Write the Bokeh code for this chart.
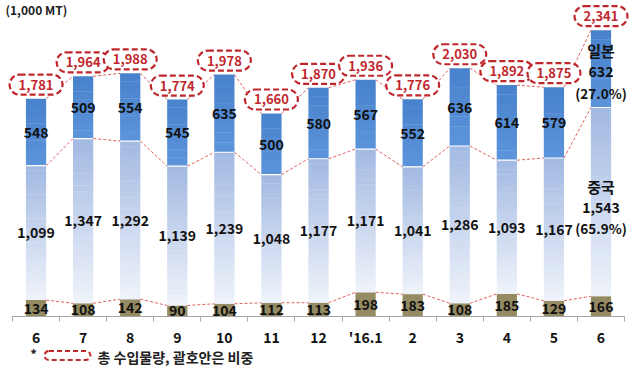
from bokeh.plotting import figure
from bokeh.models import Range1d, FixedTicker, LinearAxis
from bokeh.core.properties import value
from bokeh.embed import file_html
from bokeh.resources import INLINE

months = ["6", "7", "8", "9", "10", "11", "12", "'16.1", "2", "3", "4", "5", "6"]
other = [134, 108, 142, 90, 104, 112, 113, 198, 183, 108, 185, 129, 166]
china = [1099, 1347, 1292, 1139, 1239, 1048, 1177, 1171, 1041, 1286, 1093, 1167, 1543]
japan = [548, 509, 554, 545, 635, 500, 580, 567, 552, 636, 614, 579, 632]
totals = [1781, 1964, 1988, 1774, 1978, 1660, 1870, 1936, 1776, 2030, 1892, 1875, 2341]

FONT = value("Noto Sans CJK KR")
W = 0.43
N_SLICES = 28
PX_PER_CAT = 47.08
UNITS_PER_PX = 1 / 0.1223
FIG_W, FIG_H = 634, 367
LEFT_PX = 12   # canvas column of the first category boundary
BASE_PX = 316  # canvas row of the zero line


def hex2rgb(h):
    h = h.lstrip("#")
    return [int(h[i:i + 2], 16) for i in (0, 2, 4)]


def mix(c1, c2, t):
    a, b = hex2rgb(c1), hex2rgb(c2)
    return "#%02x%02x%02x" % tuple(round(a[i] + (b[i] - a[i]) * t) for i in range(3))


x0 = -0.5 - LEFT_PX / PX_PER_CAT
x1 = x0 + FIG_W / PX_PER_CAT
y1 = BASE_PX * UNITS_PER_PX
y0 = -(FIG_H - BASE_PX) * UNITS_PER_PX

p = figure(width=FIG_W, height=FIG_H, output_backend="svg", toolbar_location=None,
           x_range=Range1d(x0, x1), y_range=Range1d(y0, y1),
           x_axis_location=None, y_axis_location=None,
           min_border_left=0, min_border_right=0, min_border_top=0, min_border_bottom=0)
p.grid.visible = False
p.outline_line_color = None
p.background_fill_color = "white"

n = len(months)
xs = list(range(n))

L, R, B, T, C = [], [], [], [], []
for i in xs:
    L.append(i - W / 2); R.append(i + W / 2); B.append(0); T.append(other[i]); C.append("#958b62")
    b0 = other[i]
    t0 = other[i] + china[i]
    for k in range(N_SLICES):
        lo = b0 + (t0 - b0) * k / N_SLICES
        hi = b0 + (t0 - b0) * (k + 1) / N_SLICES
        if k < N_SLICES - 1:
            hi += 3
        L.append(i - W / 2); R.append(i + W / 2); B.append(lo); T.append(hi)
        C.append(mix("#eef2fa", "#a3bae2", k / (N_SLICES - 1)))
    b1 = t0
    t1 = totals[i]
    M = 8
    for k in range(M):
        lo = b1 + (t1 - b1) * k / M
        hi = b1 + (t1 - b1) * (k + 1) / M
        if k < M - 1:
            hi += 3
        L.append(i - W / 2); R.append(i + W / 2); B.append(lo); T.append(hi)
        C.append(mix("#5a93d9", "#4a83cd", k / (M - 1)))

p.quad(left=L, right=R, bottom=B, top=T, fill_color=C, line_color=None)

mid_tops = [other[i] + china[i] for i in xs]
p.segment(x0=[i - W / 2 for i in xs], x1=[i + W / 2 for i in xs], y0=mid_tops, y1=mid_tops,
          line_color="white", line_width=1.2)

for level in (other, mid_tops, totals):
    p.segment(x0=[i + W / 2 for i in xs[:-1]], x1=[i + 1 - W / 2 for i in xs[:-1]],
              y0=level[:-1], y1=level[1:], line_color="#e06060", line_width=1,
              line_dash="3 2")

lab_font = "14px"
txt_kw = dict(text_align="center", text_baseline="middle", text_font=FONT,
              text_font_style="bold", text_color="#111111")
reg = xs[:-1]
p.text(x=reg, y=[totals[i] - japan[i] / 2 for i in reg], text=[f"{japan[i]:,}" for i in reg],
       text_font_size=lab_font, **txt_kw)
p.text(x=reg, y=[other[i] + china[i] / 2 for i in reg], text=[f"{china[i]:,}" for i in reg],
       text_font_size=lab_font, **txt_kw)
p.text(x=xs, y=[other[i] / 2 for i in xs], text=[f"{v:,}" for v in other],
       text_font_size=lab_font, **txt_kw)

# last bar: country name, value and share
last = n - 1
yj = totals[last] - japan[last] / 2
yc = other[last] + china[last] / 2
p.text(x=[last, last], y=[yj, yc], text=["일본", "중국"], y_offset=[-18, -15],
       text_font_size="15px", **txt_kw)
p.text(x=[last, last], y=[yj, yc], text=[f"{japan[last]:,}", f"{china[last]:,}"],
       y_offset=[3, 6], text_font_size=lab_font, **txt_kw)
p.text(x=[last, last], y=[yj, yc],
       text=[f"({japan[last] / totals[last] * 100:.1f}%)", f"({china[last] / totals[last] * 100:.1f}%)"],
       y_offset=[24, 26], text_font_size="13.5px", **txt_kw)

# totals in dashed rounded boxes
p.text(x=xs, y=totals, text=[f"{v:,}" for v in totals], y_offset=-14,
       text_align="center", text_baseline="middle", text_font=FONT, text_font_style="bold",
       text_font_size="13px", text_color="#c0272d",
       background_fill_color="white",
       border_line_color="#c0272d", border_line_width=2.2, border_line_dash="6 3",
       padding=dict(left=9, right=9, top=5, bottom=5), border_radius=11)

# x axis drawn at the zero line
ax = LinearAxis(fixed_location=0)
ax.ticker = FixedTicker(ticks=xs, minor_ticks=[i - 0.5 for i in range(n + 1)])
ax.bounds = (-0.5, n - 0.5)
ax.major_label_overrides = {i: months[i] for i in xs}
ax.major_tick_out = 0
ax.major_tick_in = 0
ax.minor_tick_out = 5
ax.minor_tick_in = 0
ax.axis_line_color = "#a6a6a6"
ax.minor_tick_line_color = "#a6a6a6"
ax.major_label_text_font = "Noto Sans CJK KR"
ax.major_label_text_font_style = "bold"
ax.major_label_text_font_size = "14px"
ax.major_label_text_color = "#111111"
ax.major_label_standoff = 5
p.add_layout(ax, "below")

# unit label (top-left), offsets in screen pixels from the top-left corner
p.text(x=[x0], y=[y1], text=["(1,000 MT)"], x_offset=5, y_offset=9,
       text_align="left", text_baseline="middle", text_font=FONT, text_font_style="bold",
       text_font_size="12px", text_color="#222222")

# footnote, offsets in screen pixels from the bottom-left corner
p.text(x=[x0], y=[y0], text=["*"], x_offset=33, y_offset=-14,
       text_align="center", text_baseline="middle", text_font=FONT, text_font_style="bold",
       text_font_size="13px", text_color="#222222")
p.text(x=[x0], y=[y0], text=[" "], x_offset=67, y_offset=-12,
       text_align="center", text_baseline="middle", text_font_size="7px",
       border_line_color="#c0272d", border_line_width=2, border_line_dash="5 3",
       padding=dict(left=22, right=22, top=1, bottom=1), border_radius=6)
p.text(x=[x0], y=[y0], text=["총 수입물량, 괄호안은 비중"], x_offset=97, y_offset=-11,
       text_align="left", text_baseline="middle", text_font=FONT, text_font_style="bold",
       text_font_size="14px", text_color="#222222")

open("out.html", "w").write(file_html(p, INLINE))
